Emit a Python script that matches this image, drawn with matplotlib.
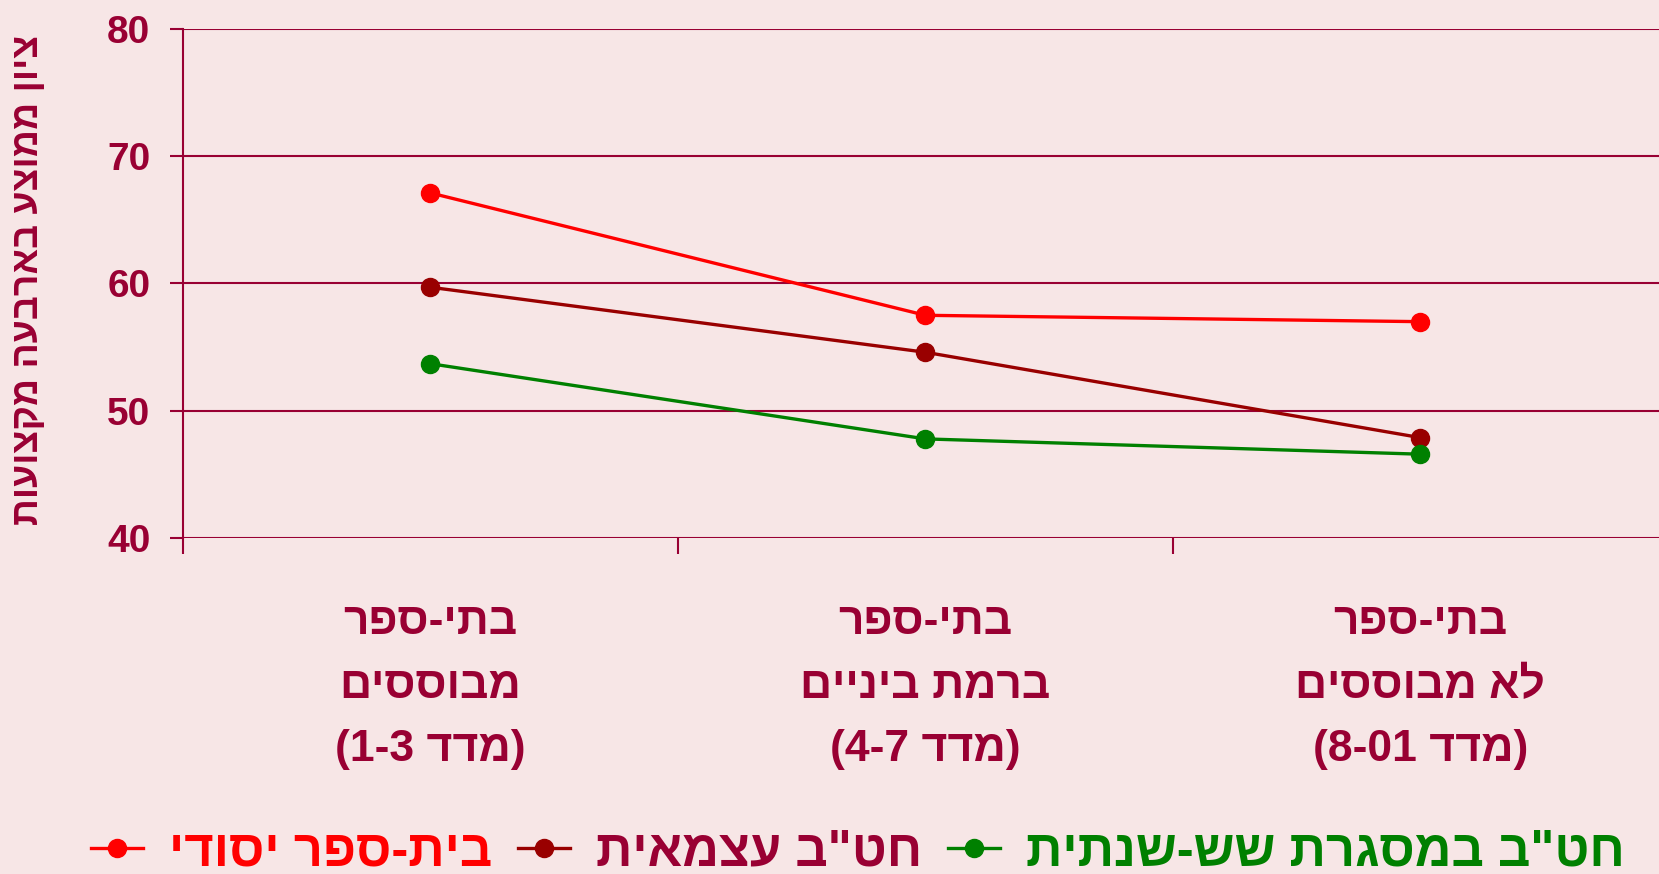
import matplotlib
matplotlib.use('Agg')
import matplotlib.pyplot as plt
import matplotlib.transforms as mtransforms

plt.rcParams['font.family'] = ['Liberation Sans', 'DejaVu Sans']
plt.rcParams['font.weight'] = 'bold'


def heb(s):
    # matplotlib has no bidi: write Hebrew in visual order
    return s[::-1]


# data
categories = [
    heb('בתי-ספר') + '\n' + heb('מבוססים') + '\n(1-3 ' + heb('מדד') + ')',
    heb('בתי-ספר') + '\n' + heb('ברמת ביניים') + '\n(4-7 ' + heb('מדד') + ')',
    heb('בתי-ספר') + '\n' + heb('לא מבוססים') + '\n(8-01 ' + heb('מדד') + ')',
]
series_names = [heb('בית-ספר יסודי'), heb('חט"ב עצמאית'), heb('חט"ב במסגרת שש-שנתית')]
elementary = [67.1, 57.5, 57.0]
junior_high = [59.7, 54.6, 47.9]
six_year = [53.7, 47.8, 46.6]
y_ticks = [40, 50, 60, 70, 80]
y_label = heb('ציון ממוצע בארבעה מקצועות')

bg = '#F7E6E6'
txt = '#990033'
colors = ['#FF0000', '#990000', '#008000']
text_colors = ['#FF0000', '#990033', '#008000']

fig = plt.figure(figsize=(16.59, 8.74), dpi=100, facecolor=bg)
ax = fig.add_axes([0.1103, 0.3841, 0.895, 0.5832])
ax.set_facecolor(bg)

x = range(len(categories))
for vals, c, name in zip([elementary, junior_high, six_year], colors, series_names):
    ax.plot(x, vals, color=c, lw=2.4, marker='o', ms=13, label=name, clip_on=False)

ax.set_xlim(-0.5, 2.5)
ax.set_ylim(40, 80)
ax.set_yticks(y_ticks)
ax.yaxis.grid(True, color=txt, lw=1.5)
ax.set_axisbelow(True)
for s in ['top', 'right', 'bottom']:
    ax.spines[s].set_visible(False)
ax.spines['left'].set_color(txt)
ax.spines['left'].set_linewidth(1.5)
ax.tick_params(axis='y', colors=txt, labelsize=28, length=9.5, width=1.5, pad=14)
for lab in ax.get_yticklabels():
    lab.set_fontweight('bold')

ax.set_xticks([-0.5, 0.5, 1.5])
ax.set_xticklabels([])
ax.tick_params(axis='x', colors=txt, length=11.5, width=1.5, direction='out')

trans = mtransforms.blended_transform_factory(ax.transData, ax.transAxes)
for i, lab in enumerate(categories):
    ax.text(i, -0.290, lab, transform=trans, ha='center', va='center',
            fontsize=32, color=txt, fontweight='bold', linespacing=1.7)

fig.text(0.017, 0.68, y_label, rotation=90, ha='center', va='center',
         fontsize=27, color=txt, fontweight='bold')

leg = fig.legend(loc='center', bbox_to_anchor=(0.517, 0.025), ncol=3, frameon=False,
                 fontsize=36.5, handlelength=1.03, handletextpad=0.51, columnspacing=0.51,
                 borderaxespad=0, borderpad=0)
for t, c in zip(leg.get_texts(), text_colors):
    t.set_color(c)
    t.set_fontweight('bold')

fig.savefig('out.png', dpi=100, facecolor=bg)
